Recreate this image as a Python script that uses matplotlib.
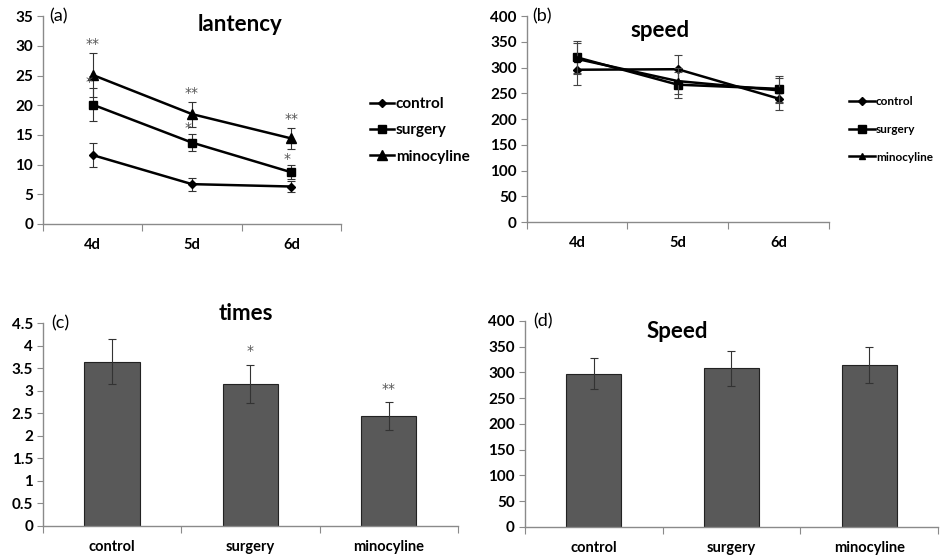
import matplotlib.pyplot as plt
import numpy as np

plt.rcParams['font.family'] = ['Lato', 'DejaVu Sans']
plt.rcParams['font.weight'] = 'bold'

days = ['4d', '5d', '6d']
groups = ['control', 'surgery', 'minocyline']

# (a) latency
lat_control = [11.6, 6.7, 6.3]
lat_control_err = [2.0, 1.1, 1.0]
lat_surgery = [20.1, 13.7, 8.7]
lat_surgery_err = [2.8, 1.5, 1.2]
lat_mino = [25.1, 18.5, 14.4]
lat_mino_err = [3.7, 2.1, 1.8]

# (b) speed per day
spd_control = [296, 297, 240]
spd_control_err = [30, 28, 22]
spd_surgery = [320, 267, 259]
spd_surgery_err = [31, 25, 25]
spd_mino = [317, 274, 256]
spd_mino_err = [30, 26, 24]

# (c) times, (d) speed
times_vals = [3.65, 3.15, 2.43]
times_err = [0.51, 0.42, 0.31]
speed_vals = [298, 308, 314]
speed_err = [31, 34, 35]

lat_stars_surgery = ['*', '*', '*']
lat_stars_mino = ['**', '**', '**']
times_stars = ['', '*', '**']

fig = plt.figure(figsize=(9.42, 5.57), dpi=100)

ax_a = fig.add_axes([0.0456, 0.598, 0.3164, 0.373])
ax_b = fig.add_axes([0.559, 0.601, 0.321, 0.370])
ax_c = fig.add_axes([0.0456, 0.0562, 0.4404, 0.3634])
ax_d = fig.add_axes([0.557, 0.0539, 0.4390, 0.3698])

axis_col = '#8a8a8a'
star_font = ['DejaVu Sans']


def style_axes(ax, labels, ymax, ystep, fmt):
    for s in ['top', 'right']:
        ax.spines[s].set_visible(False)
    for s in ['left', 'bottom']:
        ax.spines[s].set_color(axis_col)
        ax.spines[s].set_linewidth(1.0)
    ax.set_xlim(0, 3)
    ax.set_ylim(0, ymax)
    ax.set_xticks([0, 1, 2, 3])
    ax.set_xticklabels([])
    ax.set_xticks([0.5, 1.5, 2.5], minor=True)
    ax.set_xticklabels(labels, minor=True, fontsize=10.5, fontweight='bold')
    ax.tick_params(axis='x', which='major', length=5, direction='out', color=axis_col)
    ax.tick_params(axis='x', which='minor', length=0, pad=10)
    yt = np.arange(0, ymax + ystep / 2, ystep)
    ax.set_yticks(yt)
    ax.set_yticklabels([fmt(v) for v in yt], fontsize=11, fontweight='bold')
    ax.tick_params(axis='y', length=4, direction='out', color=axis_col, pad=3)


def fmt_int(v):
    return '%d' % v


def fmt_half(v):
    return ('%g' % v)


x = np.array([0.5, 1.5, 2.5])

# ---- (a)
style_axes(ax_a, days, 35, 5, fmt_int)
series_a = [(lat_control, lat_control_err, 'D', 'control', 4.5),
            (lat_surgery, lat_surgery_err, 's', 'surgery', 6),
            (lat_mino, lat_mino_err, '^', 'minocyline', 6.5)]
for vals, errs, mk, lab, ms in series_a:
    ax_a.errorbar(x, vals, yerr=errs, fmt='none', ecolor='#333333', elinewidth=0.8,
                  capsize=3, capthick=0.8)
    ax_a.plot(x, vals, color='black', lw=1.8, marker=mk, ms=ms, label=lab)
for i in range(3):
    ax_a.text(x[i] - 0.04, lat_surgery[i] + lat_surgery_err[i] - 0.2, lat_stars_surgery[i],
              ha='center', va='bottom', fontsize=10, color='#555555', family=star_font,
              fontweight='normal')
    ax_a.text(x[i], lat_mino[i] + lat_mino_err[i] + 0.3, lat_stars_mino[i],
              ha='center', va='bottom', fontsize=10, color='#555555', family=star_font,
              fontweight='normal')
ax_a.legend(loc='center left', bbox_to_anchor=(1.05, 0.45), frameon=False,
            prop={'size': 11, 'weight': 'bold'}, handlelength=1.6, handletextpad=0.1,
            labelspacing=0.8)
ax_a.text(0.02, 1.0, '(a)', transform=ax_a.transAxes, fontsize=13, va='center', ha='left',
          fontweight='normal')
ax_a.text(0.66, 0.96, 'lantency', transform=ax_a.transAxes, fontsize=16,
          fontweight='bold', ha='center', va='center')

# ---- (b)
style_axes(ax_b, days, 400, 50, fmt_int)
series_b = [(spd_control, spd_control_err, 'D', 'control', 4),
            (spd_surgery, spd_surgery_err, 's', 'surgery', 6),
            (spd_mino, spd_mino_err, '^', 'minocyline', 5)]
for vals, errs, mk, lab, ms in series_b:
    ax_b.errorbar(x, vals, yerr=errs, fmt='none', ecolor='#444444', elinewidth=0.8,
                  capsize=3, capthick=0.8)
    ax_b.plot(x, vals, color='black', lw=1.8, marker=mk, ms=ms, label=lab)
ax_b.legend(loc='center left', bbox_to_anchor=(1.03, 0.45), frameon=False,
            prop={'size': 8.5, 'weight': 'bold'}, handlelength=2.2, handletextpad=0.1,
            labelspacing=1.4)
ax_b.text(0.02, 1.0, '(b)', transform=ax_b.transAxes, fontsize=13, va='center', ha='left',
          fontweight='normal')
ax_b.text(0.44, 0.93, 'speed', transform=ax_b.transAxes, fontsize=16,
          fontweight='bold', ha='center', va='center')

# ---- (c)
style_axes(ax_c, groups, 4.5, 0.5, fmt_half)
ax_c.bar(x, times_vals, width=0.4, color='#595959', edgecolor='#222222', lw=0.8)
ax_c.errorbar(x, times_vals, yerr=times_err, fmt='none', ecolor='#333333',
              elinewidth=0.8, capsize=3, capthick=0.8)
for i in range(3):
    ax_c.text(x[i], times_vals[i] + times_err[i] + 0.15, times_stars[i],
              ha='center', va='bottom', fontsize=10, color='#555555', family=star_font,
              fontweight='normal')
ax_c.text(0.02, 1.0, '(c)', transform=ax_c.transAxes, fontsize=13, va='center', ha='left',
          fontweight='normal')
ax_c.text(0.49, 1.05, 'times', transform=ax_c.transAxes, fontsize=16,
          fontweight='bold', ha='center', va='center')

# ---- (d)
style_axes(ax_d, groups, 400, 50, fmt_int)
ax_d.bar(x, speed_vals, width=0.4, color='#595959', edgecolor='#222222', lw=0.8)
ax_d.errorbar(x, speed_vals, yerr=speed_err, fmt='none', ecolor='#333333',
              elinewidth=0.8, capsize=3, capthick=0.8)
ax_d.text(0.02, 1.0, '(d)', transform=ax_d.transAxes, fontsize=13, va='center', ha='left',
          fontweight='normal')
ax_d.text(0.37, 0.95, 'Speed', transform=ax_d.transAxes, fontsize=16,
          fontweight='bold', ha='center', va='center')

fig.savefig('out.png', dpi=100)
